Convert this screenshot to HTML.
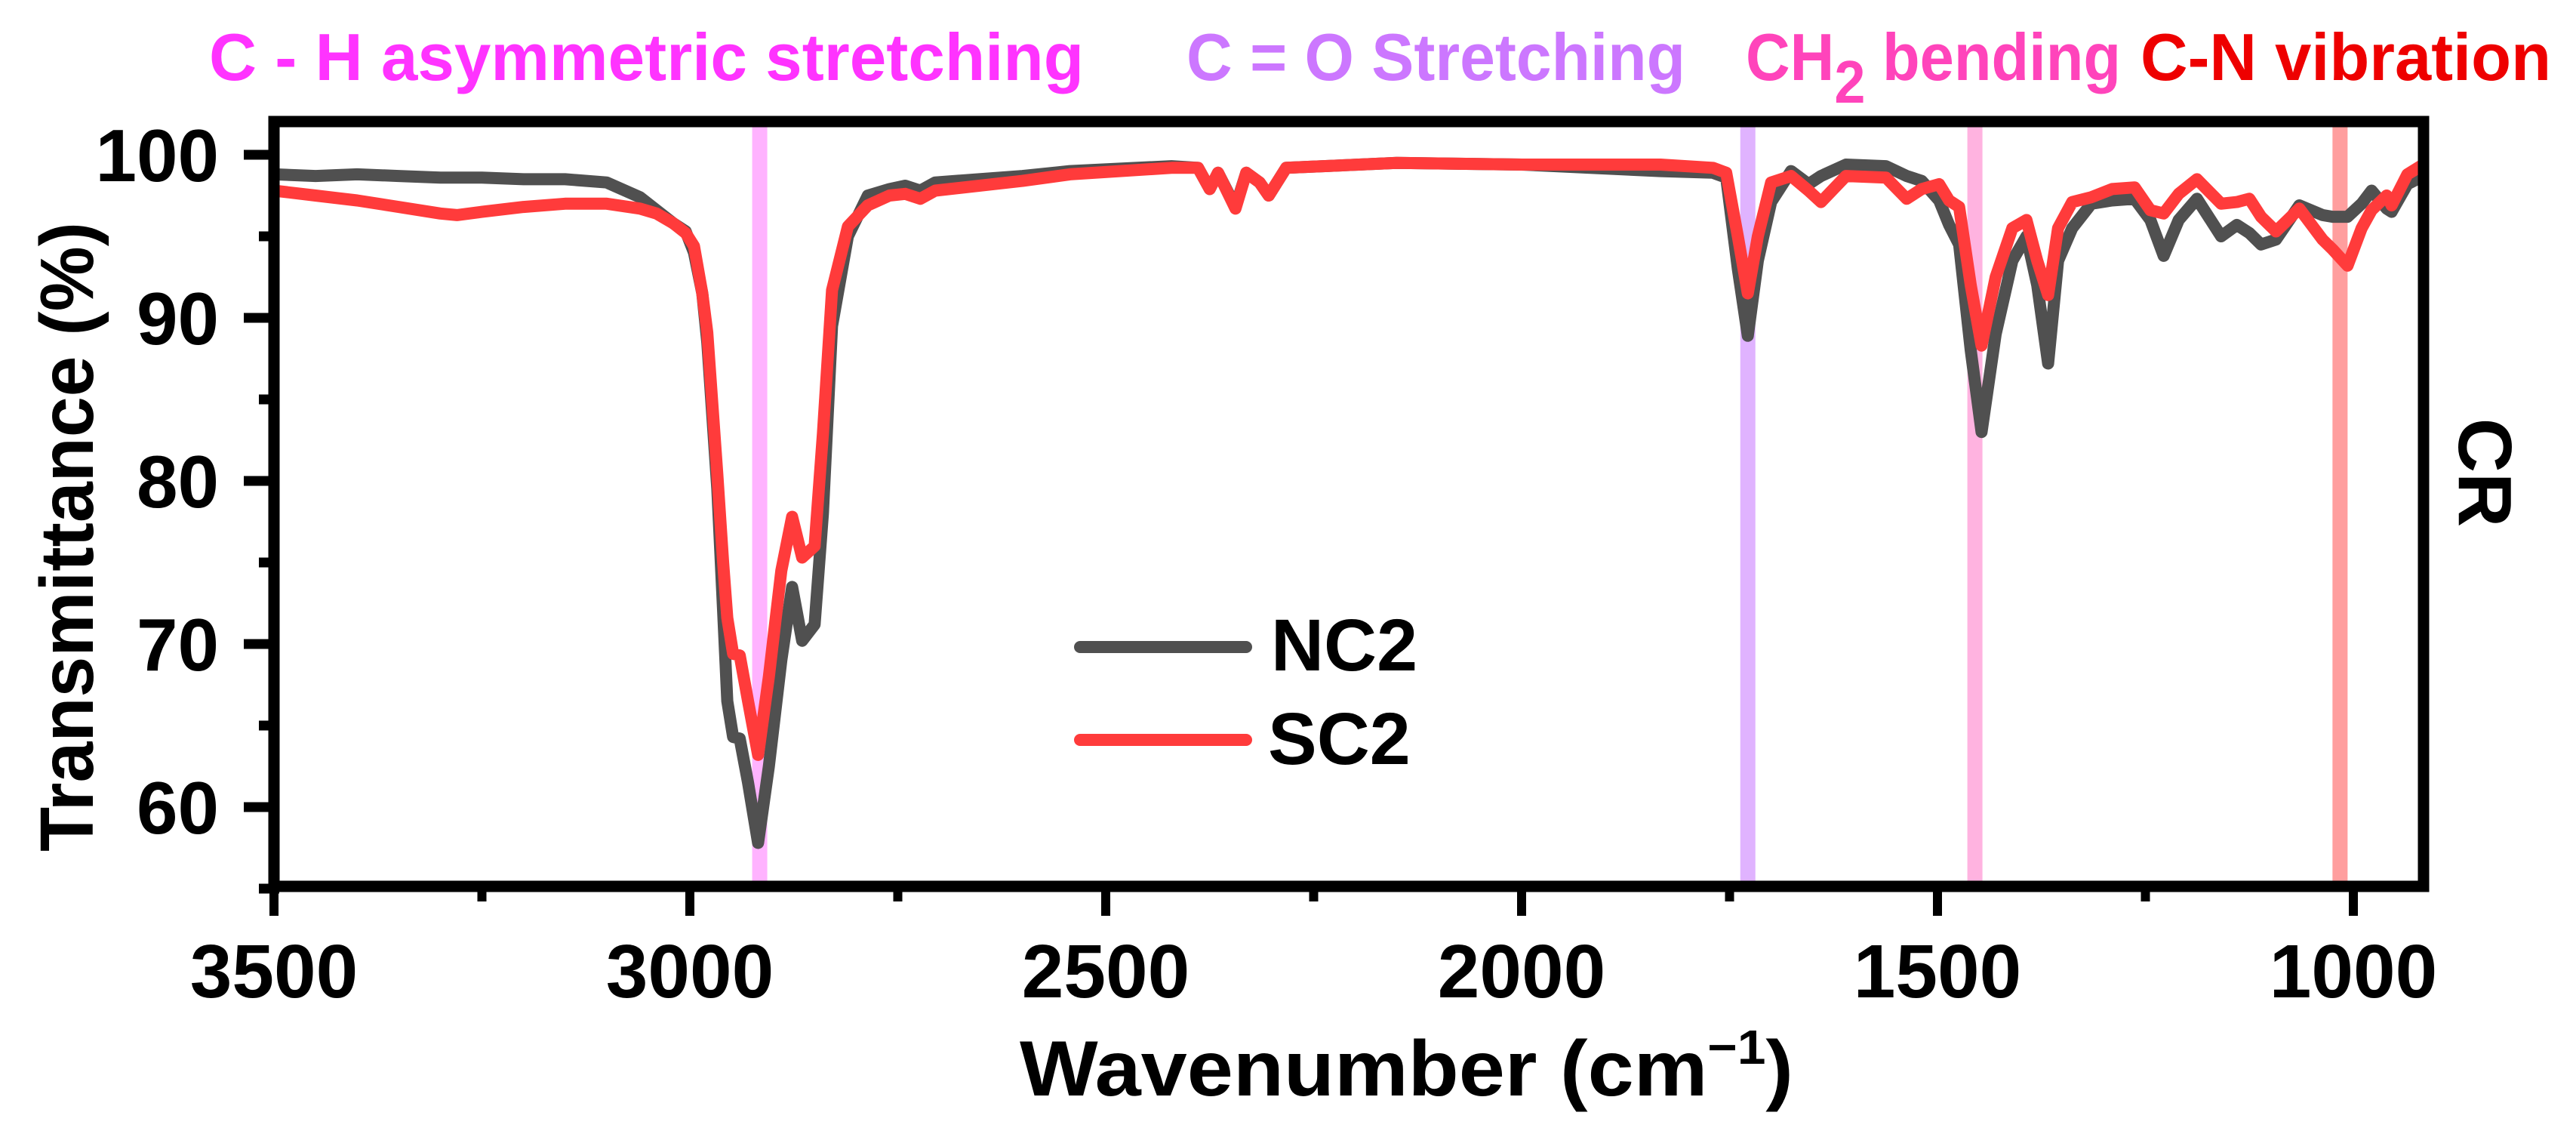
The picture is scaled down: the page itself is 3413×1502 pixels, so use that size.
<!DOCTYPE html>
<html><head><meta charset="utf-8"><style>
html,body{margin:0;padding:0;background:#fff;}
svg{display:block;font-family:"Liberation Sans",Arial,sans-serif;font-weight:bold;}
</style></head><body>
<svg id="chart" width="3413" height="1502" viewBox="0 0 3413 1502" xmlns="http://www.w3.org/2000/svg">
<defs><clipPath id="plotclip"><rect x="370" y="168" width="2834" height="999"/></clipPath></defs>
<g id="bands" clip-path="url(#plotclip)"></g>
<g id="series" clip-path="url(#plotclip)"></g>
<rect x="363" y="161" width="2848" height="1013" fill="none" stroke="#000" stroke-width="15"/>
<g id="xticks"></g>
<g id="yticks"></g>
<text x="1351" y="1451" font-size="104" textLength="1025" lengthAdjust="spacingAndGlyphs">Wavenumber (cm<tspan font-size="64" dy="-42">−1</tspan><tspan dy="42">)</tspan></text>
<text transform="translate(123,711) rotate(-90)" text-anchor="middle" font-size="100" textLength="834" lengthAdjust="spacingAndGlyphs">Transmittance (%)</text>
<text transform="translate(3258,626) rotate(90)" text-anchor="middle" font-size="100">CR</text>
<text x="277" y="106" font-size="88" fill="#ff33ff" textLength="1159" lengthAdjust="spacingAndGlyphs">C - H asymmetric stretching</text>
<text x="1572" y="106" font-size="88" fill="#cc77ff" textLength="661" lengthAdjust="spacingAndGlyphs">C = O Stretching</text>
<text x="2313" y="106" font-size="88" fill="#ff44bb" textLength="497" lengthAdjust="spacingAndGlyphs">CH<tspan font-size="80" dy="30">2</tspan><tspan dy="-30"> bending</tspan></text>
<text x="2836" y="106" font-size="88" fill="#ee0000" textLength="544" lengthAdjust="spacingAndGlyphs">C-N vibration</text>
<g>
<line x1="1431" y1="857" x2="1651" y2="857" stroke="#505050" stroke-width="16" stroke-linecap="round"/>
<text x="1684" y="888" font-size="97">NC2</text>
<line x1="1431" y1="980" x2="1651" y2="980" stroke="#ff3b3b" stroke-width="16" stroke-linecap="round"/>
<text x="1680" y="1012" font-size="97">SC2</text>
</g>
</svg>
<script>
const wavenumbers=[3500,3450,3400,3350,3300,3280,3250,3200,3150,3100,3060,3040,3020,3005,2995,2985,2979,2967,2960,2955,2948,2940,2930,2918,2905,2890,2877,2865,2850,2840,2829,2810,2786,2760,2741,2723,2705,2600,2543,2421,2389,2375,2365,2344,2331,2315,2304,2283,2150,2000,1833,1770,1754,1740,1728,1716,1700,1676,1655,1640,1610,1562,1537,1519,1498,1486,1474,1460,1447,1430,1410,1393,1380,1367,1355,1338,1315,1290,1263,1244,1228,1210,1188,1159,1140,1125,1111,1093,1065,1037,1025,1007,990,978,960,954,935,916];
const nc2Values=[98.8,98.7,98.8,98.7,98.6,98.6,98.6,98.5,98.5,98.3,97.4,96.6,95.8,95.3,94.0,91.5,88.5,79.5,72,66.5,64.3,64.2,61.5,57.8,62.5,69.0,73.5,70.2,71.2,78.0,89.5,95.0,97.5,97.9,98.1,97.8,98.3,98.7,99.0,99.3,99.2,97.9,98.9,96.8,98.9,98.3,97.5,99.2,99.5,99.4,99.0,98.9,98.6,93,88.9,93.5,97.1,99.0,98.2,98.7,99.4,99.3,98.7,98.4,97.2,95.7,94.5,88,83,89,93.5,95.0,92,87.2,93.5,95.5,97.0,97.2,97.3,96.0,93.8,96.0,97.3,95.0,95.7,95.2,94.5,94.8,96.9,96.3,96.2,96.2,97.0,97.8,96.7,96.5,98.2,98.7];
const sc2Values=[97.8,97.5,97.2,96.8,96.4,96.3,96.5,96.8,97.0,97.0,96.7,96.4,95.8,95.2,94.4,91.5,89.1,80.4,75,71.6,69.4,69.3,66.5,63.2,68,74.5,77.8,75.3,76.0,82.9,91.7,95.6,96.9,97.5,97.6,97.3,97.8,98.4,98.8,99.2,99.2,97.9,98.9,96.7,98.9,98.3,97.5,99.2,99.5,99.4,99.4,99.2,98.9,95,91.5,95,98.3,98.7,97.8,97.1,98.7,98.6,97.3,97.9,98.2,97.2,96.8,92,88.3,92.5,95.5,96.0,93.5,91.4,95.5,97.1,97.4,97.9,98.0,96.6,96.4,97.6,98.5,97.0,97.1,97.3,96.2,95.3,96.7,94.8,94.2,93.2,95.5,96.6,97.5,96.9,98.8,99.4];
const xTickValues=[3500,3000,2500,2000,1500,1000];
const xMinorTicks=[3250,2750,2250,1750,1250];
const yTickValues=[100,90,80,70,60];
const yMinorTicks=[95,85,75,65,55];
const bandCenters=[2916,1728,1455,1016];
const bandColors=["#ffb3ff","#e0b3ff","#ffb3e0","#ff9e9e"];

const NS="http://www.w3.org/2000/svg";
function X(w){return 363+(3500-w)*1.102;}
function Y(v){return 205+(100-v)*21.6;}
function mk(tag,attrs,parent){const e=document.createElementNS(NS,tag);for(const k in attrs)e.setAttribute(k,attrs[k]);parent.appendChild(e);return e;}

const bands=document.getElementById('bands');
bandCenters.forEach((c,i)=>{
  const r=mk('rect',{x:X(c)-10,y:161,width:20,height:1013,fill:bandColors[i]},bands);
  
  
});

const series=document.getElementById('series');
function draw(vals,color,name){
  const pts=wavenumbers.map((w,i)=>X(w).toFixed(1)+','+Y(vals[i]).toFixed(1)).join(' ');
  const p=mk('polyline',{points:pts,fill:'none',stroke:color,'stroke-width':16,'stroke-linejoin':'round','stroke-linecap':'round'},series);
  
  
}
draw(nc2Values,'#505050','series-nc2');
draw(sc2Values,'#ff3b3b','series-sc2');

const xt=document.getElementById('xticks');
xTickValues.forEach(v=>{
  const l=mk('line',{x1:X(v),y1:1167,x2:X(v),y2:1213,stroke:'#000','stroke-width':12},xt);
  
  
  const t=mk('text',{x:X(v),y:1321,'font-size':100,'text-anchor':'middle'},xt);
  t.textContent=v;
  
  
});
xMinorTicks.forEach(v=>{
  const l=mk('line',{x1:X(v),y1:1167,x2:X(v),y2:1194,stroke:'#000','stroke-width':12},xt);
  
  
});
const yt=document.getElementById('yticks');
yTickValues.forEach(v=>{
  const l=mk('line',{x1:323,y1:Y(v),x2:370,y2:Y(v),stroke:'#000','stroke-width':13},yt);
  
  
  const t=mk('text',{x:290,y:Y(v)+35,'font-size':98,'text-anchor':'end'},yt);
  t.textContent=v;
  
  
});
yMinorTicks.forEach(v=>{
  const l=mk('line',{x1:343,y1:Y(v),x2:370,y2:Y(v),stroke:'#000','stroke-width':13},yt);
  
  
});
</script>
</body></html>
